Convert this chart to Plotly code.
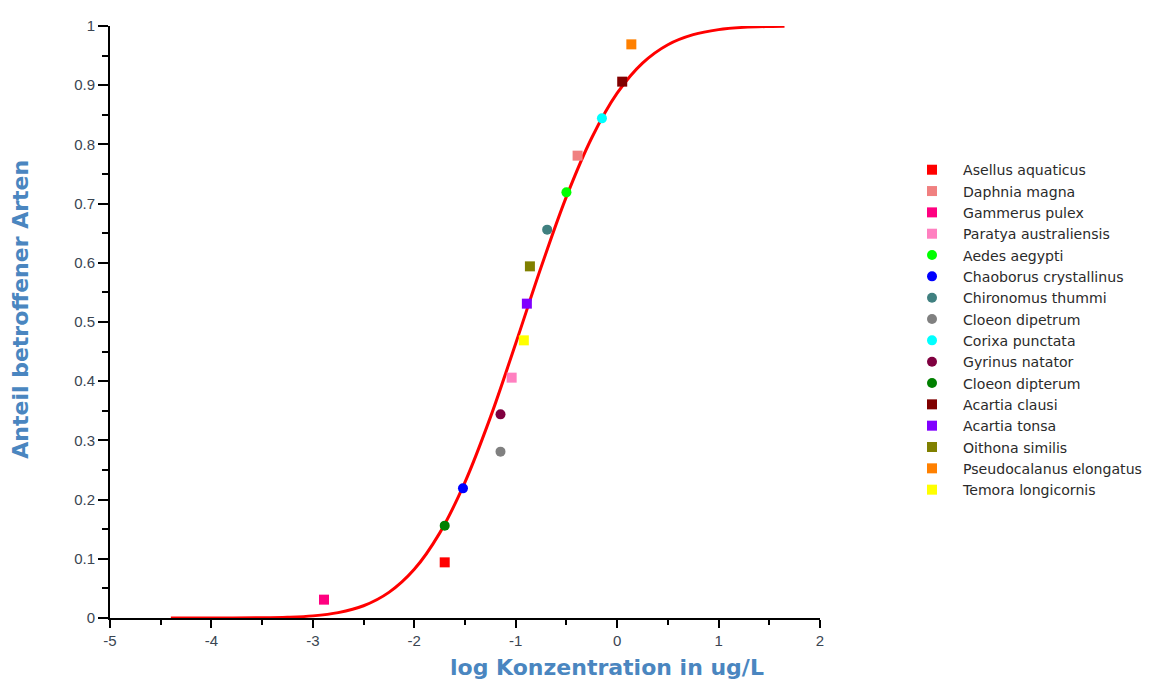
import plotly.graph_objects as go

species = ["Asellus aquaticus", "Daphnia magna", "Gammerus pulex", "Paratya australiensis",
           "Aedes aegypti", "Chaoborus crystallinus", "Chironomus thummi", "Cloeon dipetrum",
           "Corixa punctata", "Gyrinus natator", "Cloeon dipterum", "Acartia clausi",
           "Acartia tonsa", "Oithona similis", "Pseudocalanus elongatus", "Temora longicornis"]
log_conc = [-1.70, -0.39, -2.89, -1.04, -0.50, -1.52, -0.69, -1.15,
            -0.15, -1.15, -1.70, 0.05, -0.89, -0.86, 0.14, -0.92]
fraction = [0.094, 0.781, 0.031, 0.406, 0.719, 0.219, 0.656, 0.281,
            0.844, 0.344, 0.156, 0.906, 0.531, 0.594, 0.969, 0.469]
symbols = ["square", "square", "square", "square", "circle", "circle", "circle", "circle",
           "circle", "circle", "circle", "square", "square", "square", "square", "square"]
colors = ["#ff0000", "#f08080", "#ff0080", "#ff80c0", "#00ff00", "#0000ff", "#408080", "#808080",
          "#00ffff", "#800040", "#008000", "#800000", "#8000ff", "#808000", "#ff8000", "#ffff00"]

curve_x = [-4.4, -4.0, -3.5, -3.25, -3.0, -2.75, -2.5, -2.25, -2.0, -1.75, -1.5, -1.25,
           -1.0, -0.75, -0.5, -0.25, 0.0, 0.25, 0.5, 0.75, 1.0, 1.25, 1.5, 1.65]
curve_y = [0.0, 0.0, 0.0004, 0.0013, 0.0036, 0.0091, 0.0207, 0.0433, 0.0823, 0.1434, 0.2296, 0.3389,
           0.4638, 0.5924, 0.7117, 0.8113, 0.8865, 0.9373, 0.9684, 0.9854, 0.9939, 0.9977, 0.9992, 0.9996]

x_ticks = [-5, -4, -3, -2, -1, 0, 1, 2]
y_ticks = [0, 0.1, 0.2, 0.3, 0.4, 0.5, 0.6, 0.7, 0.8, 0.9, 1]
y_tick_labels = ["0", "0.1", "0.2", "0.3", "0.4", "0.5", "0.6", "0.7", "0.8", "0.9", "1"]

fig = go.Figure()
fig.add_trace(go.Scatter(x=curve_x, y=curve_y, mode="lines", line=dict(color="#ff0000", width=3, shape="spline"),
                         showlegend=False, hoverinfo="skip"))
for name, xv, yv, sym, col in zip(species, log_conc, fraction, symbols, colors):
    fig.add_trace(go.Scatter(x=[xv], y=[yv], mode="markers", name=name,
                             marker=dict(symbol=sym, color=col, size=10, line=dict(width=0)),
                             cliponaxis=False))

# page has an 8px body margin; plot area in page pixels: x 110..820, y 17..618
axis_font = dict(family="Liberation Sans, Arial, sans-serif", size=15, color="#3a4552")
title_color = "#4a86c0"
title_font = dict(family="DejaVu Sans, sans-serif", size=22, color=title_color)
fig.update_layout(
    width=1157, height=675,
    margin=dict(l=102, r=345, t=9, b=65),
    paper_bgcolor="white", plot_bgcolor="white",
    xaxis=dict(range=[-5, 2], tickvals=x_ticks, ticktext=[str(v) for v in x_ticks],
               showgrid=False, zeroline=False, showline=True, linecolor="black", linewidth=2,
               ticks="outside", ticklen=8, tickwidth=2, tickcolor="black", tickfont=axis_font,
               minor=dict(dtick=0.5, tick0=-5, ticks="outside", ticklen=5, tickwidth=2, tickcolor="black", showgrid=False)),
    yaxis=dict(range=[0, 1], tickvals=y_ticks, ticktext=y_tick_labels,
               showgrid=False, zeroline=False, showline=True, linecolor="black", linewidth=2,
               ticks="outside", ticklen=10, tickwidth=2, tickcolor="black", tickfont=axis_font,
               minor=dict(dtick=0.05, tick0=0, ticks="outside", ticklen=6, tickwidth=2, tickcolor="black", showgrid=False)),
    legend=dict(x=(901 - 110) / 710, y=(618 - 147) / 601, xanchor="left", yanchor="top",
                font=dict(family="DejaVu Sans, sans-serif", size=14.1, color="#2a2a2a"),
                bgcolor="rgba(0,0,0,0)", itemwidth=52, tracegroupgap=0),
    annotations=[
        dict(text="<b>log Konzentration in ug/L</b>", xref="paper", yref="paper",
             x=(607 - 110) / 710, y=-(668 - 618) / 601, xanchor="center", yanchor="middle",
             showarrow=False, font=title_font),
        dict(text="<b>Anteil betroffener Arten</b>", xref="paper", yref="paper",
             x=-(110 - 21) / 710, y=(618 - 305) / 601, xanchor="center", yanchor="middle",
             textangle=-90, showarrow=False, font=title_font),
    ],
)

fig.write_html("out.html")
